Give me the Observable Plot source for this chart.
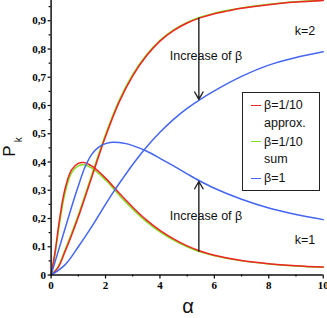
<!DOCTYPE html>
<html><head><meta charset="utf-8">
<script src="https://cdn.jsdelivr.net/npm/d3@7"></script>
<script src="https://cdn.jsdelivr.net/npm/@observablehq/plot@0.6"></script>
<style>
body{margin:0;background:#fff;}
#wrap{position:relative;width:327px;height:318px;overflow:hidden;}
.lg{position:absolute;font-family:"Liberation Sans",sans-serif;font-size:12.5px;line-height:12px;color:#111;white-space:nowrap;}
</style></head>
<body><div id="wrap"></div>
<script>
// alpha values and read-off P_k values
const k1A = [0,0.15,0.3,0.5,0.75,1.0,1.2,1.5,2,2.5,3,3.5,4,4.5,5,5.5,6,7,8,9,10];
const k1RedP = [0,0.085,0.19,0.3,0.372,0.395,0.398,0.385,0.343,0.29,0.24,0.195,0.158,0.128,0.103,0.084,0.07,0.051,0.04,0.033,0.028];
const k1GreenP = [0,0.075,0.175,0.285,0.362,0.386,0.39,0.378,0.336,0.283,0.233,0.189,0.153,0.124,0.1,0.081,0.068,0.05,0.039,0.032,0.027];
const k2A = [0,0.25,0.5,0.75,1.0,1.5,2,2.5,3,3.5,4,4.5,5,5.5,6,6.5,7,8,9,10];
const k2RedP = [0,0.025,0.08,0.14,0.205,0.348,0.49,0.612,0.705,0.775,0.828,0.865,0.892,0.911,0.925,0.935,0.944,0.957,0.966,0.972];
const k2GreenP = [0,0.028,0.086,0.147,0.212,0.356,0.497,0.618,0.71,0.779,0.831,0.868,0.894,0.913,0.927,0.937,0.945,0.958,0.967,0.973];
const k1BlueA = [0,0.25,0.5,0.75,1.0,1.25,1.5,1.75,2.0,2.25,2.5,2.75,3,3.5,4,4.5,5,5.5,6,7,8,9,10];
const k1BlueP = [0,0.08,0.16,0.24,0.315,0.383,0.428,0.453,0.465,0.47,0.469,0.465,0.458,0.439,0.413,0.386,0.358,0.331,0.307,0.268,0.237,0.214,0.196];
const k2BlueA = [0,0.5,1.0,1.5,2.0,2.3,2.6,3,3.5,4,4.5,5,5.5,6,7,8,9,10];
const k2BlueP = [0,0.035,0.1,0.172,0.25,0.295,0.337,0.391,0.452,0.505,0.551,0.59,0.623,0.652,0.703,0.743,0.77,0.79];

// annotations
const arrowX = [5.43, 5.43];
const arrowFrom = [0.91, 0.084];
const arrowTo = [0.622, 0.331];
const noteLabels = ["Increase of β", "Increase of β", "k=2", "k=1"];
const noteA = [4.36, 4.36, 8.95, 8.95];
const noteP = [0.775, 0.208, 0.862, 0.124];

const xMajor = [0,2,4,6,8,10];
const xMinor = [1,3,5,7,9];
const yMajor = [0,0.1,0.2,0.3,0.4,0.5,0.6,0.7,0.8,0.9];
const yMinor = [0.05,0.15,0.25,0.35,0.45,0.55,0.65,0.75,0.85,0.95];

const colors = {red:"#f02424", green:"#80e020", blue:"#4466f0"};

const toRows = (A, P) => A.map((a, i) => ({a, p: P[i]}));
const fmt = d => d === 0 ? "0" : d.toFixed(1).replace(".", ",");

const series = [
  {rows: toRows(k2A, k2GreenP), c: colors.green},
  {rows: toRows(k1A, k1GreenP), c: colors.green},
  {rows: toRows(k2A, k2RedP), c: colors.red},
  {rows: toRows(k1A, k1RedP), c: colors.red},
  {rows: toRows(k1BlueA, k1BlueP), c: colors.blue},
  {rows: toRows(k2BlueA, k2BlueP), c: colors.blue},
];

const arrows = arrowX.map((a, i) => ({a, p1: arrowFrom[i], p2: arrowTo[i]}));
const notes = noteLabels.map((t, i) => ({t, a: noteA[i], p: noteP[i]}));

const plot = Plot.plot({
  width: 327, height: 318,
  marginLeft: 50.6, marginRight: 4.3, marginTop: 0, marginBottom: 43.5,
  style: {fontFamily: "Liberation Serif", fontSize: "11px", fontWeight: "bold", background: "#fff", overflow: "visible"},
  x: {domain: [0, 10]},
  y: {domain: [0, 0.9717]},
  marks: [
    ...series.map(s => Plot.line(s.rows, {x: "a", y: "p", stroke: s.c, strokeWidth: 1.5, curve: "catmull-rom"})),
    Plot.arrow(arrows, {x1: "a", y1: "p1", x2: "a", y2: "p2", stroke: "#222", strokeWidth: 1.4, headLength: 9}),
    Plot.text(notes, {x: "a", y: "p", text: "t", textAnchor: "start", fontFamily: "Liberation Sans", fontSize: 12.5, fontWeight: "normal", fill: "#111"}),
    Plot.axisX(xMajor, {tickSize: 4, tickFormat: d => String(d), tickPadding: 2, strokeWidth: 1.2, label: null}),
    Plot.axisX(xMinor, {tickSize: 2, text: null, strokeWidth: 1.2, label: null}),
    Plot.axisY(yMajor, {tickSize: 3, tickFormat: fmt, tickPadding: 2, strokeWidth: 1.2, label: null}),
    Plot.axisY(yMinor, {tickSize: 2, text: null, strokeWidth: 1.2, label: null}),
    Plot.ruleX([0], {stroke: "#111", strokeWidth: 1.5}),
    Plot.ruleY([0], {stroke: "#111", strokeWidth: 1.5})
  ]
});

const wrap = document.getElementById("wrap");
wrap.appendChild(plot);

// axis titles
const svg = d3.select(plot);
const pk = svg.append("text")
  .attr("transform", "translate(15,147) rotate(-90)")
  .attr("font-family", "Liberation Sans").attr("font-weight", "normal")
  .attr("fill", "#111");
pk.append("tspan").attr("font-size", 17).text("P");
pk.append("tspan").attr("font-size", 10).attr("dx", 3).attr("dy", 7).text("k");
svg.append("text")
  .attr("x", 188).attr("y", 313).attr("text-anchor", "middle")
  .attr("font-family", "Liberation Sans").attr("font-weight", "normal")
  .attr("font-size", 20).attr("fill", "#111").text("α");

// legend
const legendEntries = [
  {c: colors.red, lines: ["β=1/10", "approx."], y: 105},
  {c: colors.green, lines: ["β=1/10", "sum"], y: 141.7},
  {c: colors.blue, lines: ["β=1"], y: 178}
];
const box = document.createElement("div");
box.style.cssText = "position:absolute;left:242px;top:92px;width:78px;height:99px;border:1px solid #222;background:#fff;box-sizing:border-box;";
wrap.appendChild(box);
legendEntries.forEach(e => {
  const ln = document.createElement("div");
  ln.style.cssText = `position:absolute;left:251px;top:${e.y - 0.5}px;width:10px;height:1.2px;background:${e.c};`;
  wrap.appendChild(ln);
  e.lines.forEach((t, j) => {
    const d = document.createElement("div");
    d.className = "lg";
    d.style.left = "264px";
    d.style.top = (e.y - 6 + j * 17.5) + "px";
    d.textContent = t;
    wrap.appendChild(d);
  });
});
</script>
</body></html>
